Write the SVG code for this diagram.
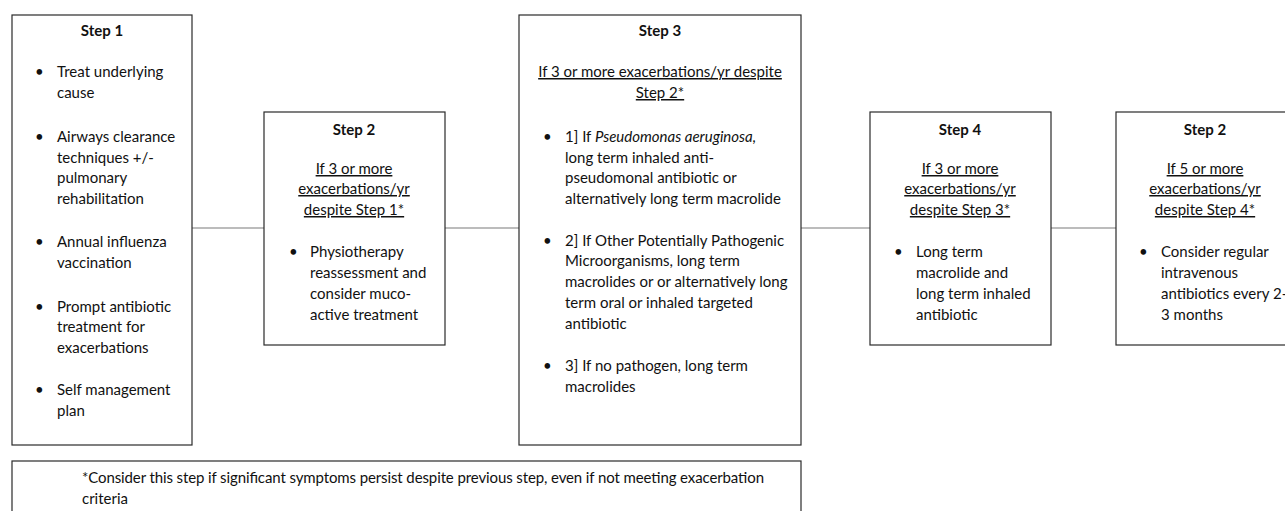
<svg xmlns="http://www.w3.org/2000/svg" width="1285" height="511" viewBox="0 0 1285 511">
<style>
text{font-family:Lato,"Open Sans","Liberation Sans",sans-serif;font-size:15px;fill:#111}
.t{font-weight:bold;text-anchor:middle}
.u{text-anchor:middle;text-decoration:underline}
.box{fill:#fff;stroke:#2a2a2a;stroke-width:1.2}
.con{stroke:#7a7a7a;stroke-width:1.2;fill:none}
</style>
<rect width="1285" height="511" fill="#fff"/>
<g id="connectors">
<line class="con" x1="192" y1="228" x2="264" y2="228"/>
<line class="con" x1="445" y1="228" x2="519" y2="228"/>
<line class="con" x1="801" y1="228" x2="870" y2="228"/>
<line class="con" x1="1051" y1="228" x2="1116" y2="228"/>
</g>
<g id="step1">
<rect class="box" x="12" y="15" width="180" height="430"/>
<text class="t" x="102" y="36">Step 1</text>
<text x="35" y="77">•</text><text x="57" y="77">Treat underlying</text>
<text x="57" y="98">cause</text>
<text x="35" y="142">•</text><text x="57" y="142">Airways clearance</text>
<text x="57" y="163">techniques +/-</text>
<text x="57" y="183">pulmonary</text>
<text x="57" y="204">rehabilitation</text>
<text x="35" y="247">•</text><text x="57" y="247">Annual influenza</text>
<text x="57" y="268">vaccination</text>
<text x="35" y="312">•</text><text x="57" y="312">Prompt antibiotic</text>
<text x="57" y="332">treatment for</text>
<text x="57" y="353">exacerbations</text>
<text x="35" y="395">•</text><text x="57" y="395">Self management</text>
<text x="57" y="416">plan</text>
</g>
<g id="step2">
<rect class="box" x="264" y="112" width="181" height="233"/>
<text class="t" x="354" y="135">Step 2</text>
<text class="u" x="354" y="174">If 3 or more</text>
<text class="u" x="354" y="194">exacerbations/yr</text>
<text class="u" x="354" y="215">despite Step 1*</text>
<text x="289" y="257">•</text><text x="310" y="257">Physiotherapy</text>
<text x="310" y="278">reassessment and</text>
<text x="310" y="299">consider muco-</text>
<text x="310" y="320">active treatment</text>
</g>
<g id="step3">
<rect class="box" x="519" y="15" width="282" height="430"/>
<text class="t" x="660" y="36">Step 3</text>
<text class="u" x="660" y="77">If 3 or more exacerbations/yr despite</text>
<text class="u" x="660" y="98">Step 2*</text>
<text x="543" y="142">•</text><text x="565" y="142">1] If <tspan font-style="italic">Pseudomonas aeruginosa,</tspan></text>
<text x="565" y="163">long term inhaled anti-</text>
<text x="565" y="183">pseudomonal antibiotic or</text>
<text x="565" y="204">alternatively long term macrolide</text>
<text x="543" y="246">•</text><text x="565" y="246">2] If Other Potentially Pathogenic</text>
<text x="565" y="266">Microorganisms, long term</text>
<text x="565" y="287">macrolides or or alternatively long</text>
<text x="565" y="308">term oral or inhaled targeted</text>
<text x="565" y="329">antibiotic</text>
<text x="543" y="371">•</text><text x="565" y="371">3] If no pathogen, long term</text>
<text x="565" y="392">macrolides</text>
</g>
<g id="step4">
<rect class="box" x="870" y="112" width="181" height="233"/>
<text class="t" x="960" y="135">Step 4</text>
<text class="u" x="960" y="174">If 3 or more</text>
<text class="u" x="960" y="194">exacerbations/yr</text>
<text class="u" x="960" y="215">despite Step 3*</text>
<text x="894" y="257">•</text><text x="916" y="257">Long term</text>
<text x="916" y="278">macrolide and</text>
<text x="916" y="299">long term inhaled</text>
<text x="916" y="320">antibiotic</text>
</g>
<g id="step5">
<rect class="box" x="1116" y="112" width="181" height="233"/>
<text class="t" x="1205" y="135">Step 2</text>
<text class="u" x="1205" y="174">If 5 or more</text>
<text class="u" x="1205" y="194">exacerbations/yr</text>
<text class="u" x="1205" y="215">despite Step 4*</text>
<text x="1139" y="257">•</text><text x="1161" y="257">Consider regular</text>
<text x="1161" y="278">intravenous</text>
<text x="1161" y="299" font-size="14">antibiotics every 2-</text>
<text x="1161" y="320">3 months</text>
</g>
<g id="footnote">
<rect class="box" x="12" y="461" width="789" height="60"/>
<text x="82" y="483" textLength="682" lengthAdjust="spacing">*Consider this step if significant symptoms persist despite previous step, even if not meeting exacerbation</text>
<text x="82" y="504">criteria</text>
</g>
</svg>
